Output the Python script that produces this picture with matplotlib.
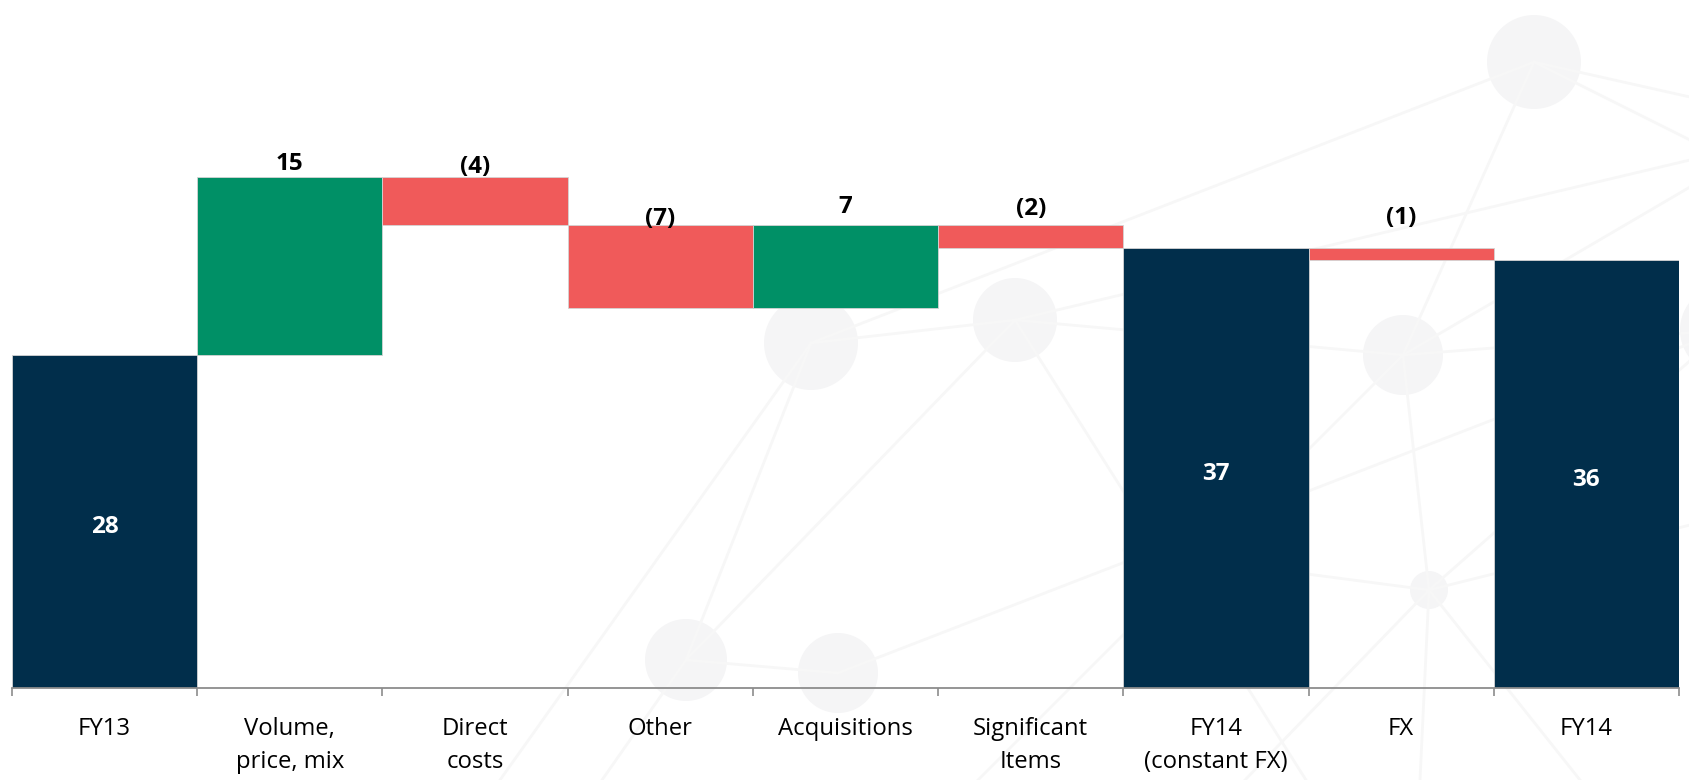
import matplotlib
matplotlib.use("Agg")
import matplotlib.pyplot as plt
from matplotlib.patches import Circle

plt.rcParams["font.family"] = ["Open Sans", "DejaVu Sans"]

# data
categories = ["FY13", "Volume,\nprice, mix", "Direct\ncosts", "Other", "Acquisitions",
              "Significant\nItems", "FY14\n(constant FX)", "FX", "FY14"]
values = [28, 15, -4, -7, 7, -2, 37, -1, 36]
is_total = [True, False, False, False, False, False, True, False, True]

# colours
navy = "#012E4B"
green = "#009066"
red = "#F05A5A"
deco = "#F5F5F6"
deco_line = "#F7F7F7"

# how far (px) above the bar top each change label sits
label_lift_px = [0, 13, 10, 6, 18, 16, 0, 30, 0]

W, H = 1690, 780
fig = plt.figure(figsize=(W / 100, H / 100), dpi=100)

# background network decoration, figure pixel coords
bg = fig.add_axes([0, 0, 1, 1], zorder=0)
bg.set_xlim(0, W)
bg.set_ylim(H, 0)
bg.axis("off")
nodes = {
    "TR": (1534, 62, 47), "A": (811, 343, 47), "B": (1015, 320, 42),
    "FX": (1403, 355, 40), "C": (686, 660, 41), "D": (838, 673, 40),
    "S": (1429, 590, 19), "R": (1725, 330, 45),
}
edges = [("TR", "A"), ("TR", "FX"), ("A", "B"), ("A", "C"), ("B", "C"), ("C", "D"),
         ("B", "FX"), ("D", "R"), ("FX", "R"), ("S", "FX"), ("S", "R")]
loose = [("TR", (1690, 97)), ("TR", (1690, 140)), ("B", (1690, 160)), ("FX", (1690, 187)),
         ("A", (500, 780)), ("C", (602, 780)), ("FX", (978, 780)), ("B", (1306, 780)),
         ("S", (1245, 780)), ("S", (1420, 780)), ("S", (1580, 780)), ("S", (1124, 550)),
         ("S", (1690, 525))]
for a, b in edges:
    bg.plot([nodes[a][0], nodes[b][0]], [nodes[a][1], nodes[b][1]], color=deco_line, lw=2.0)
for a, p in loose:
    bg.plot([nodes[a][0], p[0]], [nodes[a][1], p[1]], color=deco_line, lw=2.0)
for x, y, r in nodes.values():
    bg.add_patch(Circle((x, y), r, color=deco, lw=0))

# main chart
ax = fig.add_axes([12 / W, 92 / H, 1667 / W, 688 / H], zorder=1)
ax.patch.set_alpha(0)

bottoms, heights, colors = [], [], []
running = 0
for v, tot in zip(values, is_total):
    if tot:
        bottoms.append(0)
        heights.append(v)
        colors.append(navy)
        running = v
    else:
        bottoms.append(min(running, running + v))
        heights.append(abs(v))
        colors.append(green if v > 0 else red)
        running += v

x = range(len(categories))
ax.bar(x, heights, bottom=bottoms, width=1.0, color=colors, edgecolor="#D4D4D4",
       linewidth=0.6)

for i, (v, tot) in enumerate(zip(values, is_total)):
    if tot:
        ax.annotate(str(v), (i, heights[i] / 2), xytext=(0, -4), textcoords="offset points",
                    ha="center", va="center", color="white",
                    fontsize=17.5, fontweight="bold")
    else:
        top = bottoms[i] + heights[i]
        txt = str(v) if v > 0 else "(%d)" % abs(v)
        ax.annotate(txt, (i, top), xytext=(0, label_lift_px[i] * 0.72),
                    textcoords="offset points", ha="center", va="center",
                    fontsize=17.5, fontweight="bold", color="black")

ax.set_xlim(-0.5, len(categories) - 0.5)
ax.set_ylim(0, 688 / 11.88)
ax.set_yticks([])
for s in ["top", "right", "left"]:
    ax.spines[s].set_visible(False)
ax.spines["bottom"].set_color("#8C8C8C")
ax.spines["bottom"].set_linewidth(1.3)

ax.set_xticks(list(x))
ax.set_xticklabels(categories, fontsize=17.2, linespacing=1.5)
ax.tick_params(axis="x", which="major", length=0, pad=21)
ax.set_xticks([i - 0.5 for i in range(len(categories) + 1)], minor=True)
ax.tick_params(axis="x", which="minor", length=6, width=1.2, color="#8C8C8C")

fig.savefig("out.png", dpi=100)
